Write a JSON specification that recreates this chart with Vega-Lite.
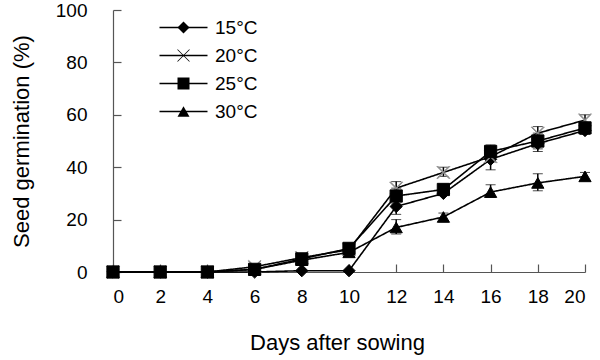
{
  "$schema": "https://vega.github.io/schema/vega-lite/v6.json",
  "autosize": "none",
  "width": 472,
  "height": 262,
  "padding": {"left": 113, "top": 10, "right": 15, "bottom": 88},
  "background": "white",
  "config": {
    "font": "Liberation Sans",
    "view": {"stroke": null},
    "axis": {"grid": false, "domainColor": "#555", "tickColor": "#555", "labelColor": "black", "titleColor": "black", "labelFont": "Liberation Sans", "titleFont": "Liberation Sans", "titleFontWeight": "normal", "labelFontSize": 19, "titleFontSize": 22, "domainWidth": 1.2, "tickWidth": 1.2}
  },
  "datasets": {
    "main": [
      {"day": 0, "temp": "15°C", "g": 0}, {"day": 2, "temp": "15°C", "g": 0}, {"day": 4, "temp": "15°C", "g": 0}, {"day": 6, "temp": "15°C", "g": 0}, {"day": 8, "temp": "15°C", "g": 0.5}, {"day": 10, "temp": "15°C", "g": 0.5}, {"day": 12, "temp": "15°C", "g": 25}, {"day": 14, "temp": "15°C", "g": 30}, {"day": 16, "temp": "15°C", "g": 43}, {"day": 18, "temp": "15°C", "g": 49}, {"day": 20, "temp": "15°C", "g": 54},
      {"day": 0, "temp": "20°C", "g": 0}, {"day": 2, "temp": "20°C", "g": 0}, {"day": 4, "temp": "20°C", "g": 0}, {"day": 6, "temp": "20°C", "g": 2}, {"day": 8, "temp": "20°C", "g": 5.5}, {"day": 10, "temp": "20°C", "g": 8.5}, {"day": 12, "temp": "20°C", "g": 32}, {"day": 14, "temp": "20°C", "g": 38}, {"day": 16, "temp": "20°C", "g": 44}, {"day": 18, "temp": "20°C", "g": 53}, {"day": 20, "temp": "20°C", "g": 58},
      {"day": 0, "temp": "25°C", "g": 0}, {"day": 2, "temp": "25°C", "g": 0}, {"day": 4, "temp": "25°C", "g": 0}, {"day": 6, "temp": "25°C", "g": 1}, {"day": 8, "temp": "25°C", "g": 5}, {"day": 10, "temp": "25°C", "g": 9}, {"day": 12, "temp": "25°C", "g": 29}, {"day": 14, "temp": "25°C", "g": 31.5}, {"day": 16, "temp": "25°C", "g": 46}, {"day": 18, "temp": "25°C", "g": 50}, {"day": 20, "temp": "25°C", "g": 55},
      {"day": 0, "temp": "30°C", "g": 0}, {"day": 2, "temp": "30°C", "g": 0}, {"day": 4, "temp": "30°C", "g": 0}, {"day": 6, "temp": "30°C", "g": 1}, {"day": 8, "temp": "30°C", "g": 4.5}, {"day": 10, "temp": "30°C", "g": 7.5}, {"day": 12, "temp": "30°C", "g": 17}, {"day": 14, "temp": "30°C", "g": 21}, {"day": 16, "temp": "30°C", "g": 30.5}, {"day": 18, "temp": "30°C", "g": 34}, {"day": 20, "temp": "30°C", "g": 36.5}
    ],
    "err": [
      {"day": 12, "temp": "15°C", "lo": 22, "hi": 28}, {"day": 16, "temp": "15°C", "lo": 39, "hi": 47}, {"day": 18, "temp": "15°C", "lo": 46, "hi": 52},
      {"day": 12, "temp": "20°C", "lo": 29.5, "hi": 34.5}, {"day": 14, "temp": "20°C", "lo": 36.5, "hi": 40}, {"day": 16, "temp": "20°C", "lo": 42, "hi": 46}, {"day": 18, "temp": "20°C", "lo": 51, "hi": 55.5}, {"day": 20, "temp": "20°C", "lo": 55.5, "hi": 60},
      {"day": 12, "temp": "25°C", "lo": 26, "hi": 32}, {"day": 14, "temp": "25°C", "lo": 29.5, "hi": 33.5}, {"day": 16, "temp": "25°C", "lo": 44, "hi": 48.5}, {"day": 18, "temp": "25°C", "lo": 47, "hi": 53}, {"day": 20, "temp": "25°C", "lo": 52.5, "hi": 57},
      {"day": 12, "temp": "30°C", "lo": 14.5, "hi": 20}, {"day": 14, "temp": "30°C", "lo": 19.5, "hi": 22.5}, {"day": 16, "temp": "30°C", "lo": 28.5, "hi": 33.3}, {"day": 18, "temp": "30°C", "lo": 31, "hi": 37.5}, {"day": 20, "temp": "30°C", "lo": 35, "hi": 38}
    ]
  },
  "encoding": {
    "x": {"field": "day", "type": "quantitative", "scale": {"domain": [0, 20], "nice": false}, "title": "Days after sowing",
      "axis": {"values": [0, 2, 4, 6, 8, 10, 12, 14, 16, 18, 20], "tickSize": -8, "labelPadding": 23, "titlePadding": 26, "titleX": 224}}
  },
  "layer": [
    {
      "data": {"name": "main"},
      "mark": {"type": "line", "color": "black", "strokeWidth": 1.6},
      "encoding": {
        "y": {"field": "g", "type": "quantitative", "scale": {"domain": [0, 100], "nice": false}, "title": "Seed germination (%)",
          "axis": {"values": [0, 20, 40, 60, 80, 100], "tickSize": -8, "labelPadding": 34, "titlePadding": 22}},
        "strokeDash": {"field": "temp", "type": "nominal", "scale": {"range": [[1, 0], [1, 0], [1, 0], [1, 0]]},
          "legend": {"title": null, "orient": "none", "legendX": 61, "legendY": 8, "padding": 0, "symbolType": "M-4,0H4", "symbolSize": 144, "symbolStrokeColor": "black", "symbolStrokeWidth": 1.6, "symbolDash": [1, 0], "labelFontSize": 19, "labelColor": "transparent", "labelOffset": 22, "rowPadding": 8}}
      }
    },
    {
      "data": {"name": "err"},
      "mark": {"type": "errorbar", "ticks": {"size": 10, "color": "black", "strokeWidth": 1.5}, "rule": {"color": "black", "strokeWidth": 1.5}},
      "encoding": {
        "y": {"field": "lo", "type": "quantitative", "title": "Seed germination (%)"},
        "y2": {"field": "hi"}
      }
    },
    {
      "data": {"name": "main"},
      "mark": {"type": "point", "size": 150, "opacity": 1, "strokeWidth": 1},
      "encoding": {
        "y": {"field": "g", "type": "quantitative", "title": "Seed germination (%)"},
        "shape": {"field": "temp", "type": "nominal", "scale": {"domain": ["15°C", "20°C", "25°C", "30°C"], "range": ["diamond", "M-1.042,-0.958L0.958,1.042L1.042,0.958L-0.958,-1.042ZM-0.958,1.042L1.042,-0.958L0.958,-1.042L-1.042,0.958Z", "square", "triangle-up"]},
          "legend": {"title": null, "orient": "none", "legendX": 61, "legendY": 8, "padding": 0, "symbolSize": 144, "labelFontSize": 19, "labelColor": "black", "labelOffset": 22, "rowPadding": 8,
            "symbolStrokeWidth": 1,
            "encode": {"symbols": {"update": {
              "fill": {"signal": "datum.value === '20°C' ? '#8c8c8c' : 'black'"},
              "stroke": {"signal": "datum.value === '20°C' ? '#8c8c8c' : 'black'"},
              "opacity": {"value": 1},
              "fillOpacity": {"value": 1},
              "strokeOpacity": {"value": 1}}}}}},
        "fill": {"field": "temp", "type": "nominal", "scale": {"range": ["black", "#8c8c8c", "black", "black"]}, "legend": null},
        "stroke": {"field": "temp", "type": "nominal", "scale": {"range": ["black", "#8c8c8c", "black", "black"]}, "legend": null}
      }
    }
  ]
}
